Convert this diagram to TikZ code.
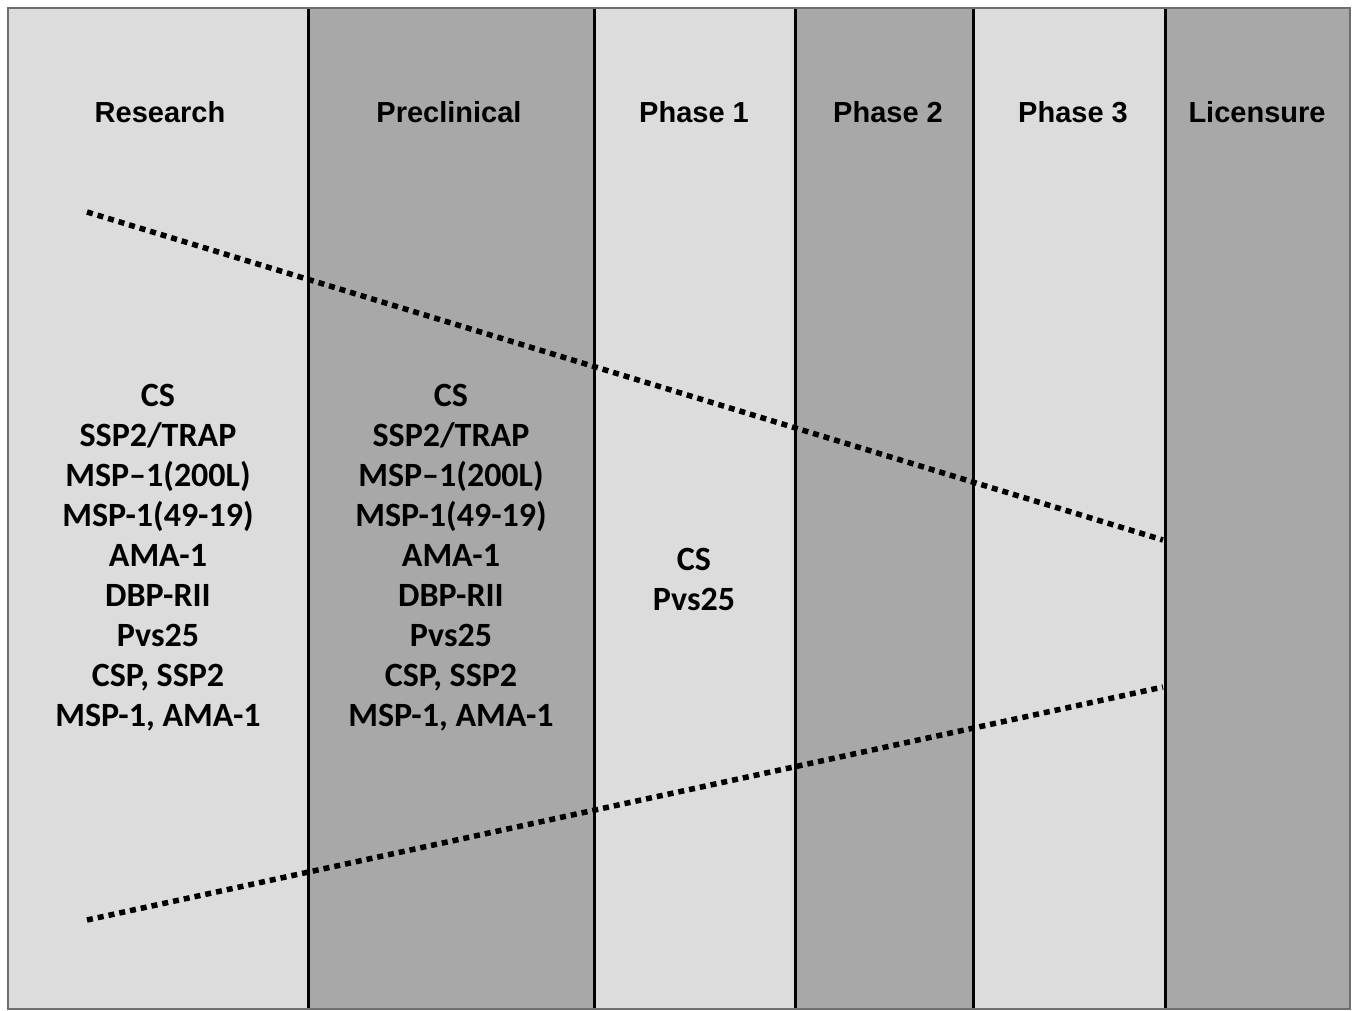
\documentclass[tikz,border=0pt]{standalone}
\usepackage{fontspec}
\setmainfont{Carlito}
\newfontfamily\headfont{Liberation Sans}
\begin{document}
\begin{tikzpicture}[x=1pt,y=-1pt,
  divider/.style={line width=3pt,black},
  head/.style={font=\headfont\bfseries\fontsize{29}{34}\selectfont,anchor=center},
  items/.style={font=\bfseries\fontsize{34}{40}\selectfont,align=center,anchor=center},
  dotline/.style={line width=5.5pt,dash pattern=on 6pt off 5pt,black}]
\definecolor{light}{HTML}{DCDCDC}
\definecolor{darkg}{HTML}{A8A8A8}
\definecolor{frame}{HTML}{6E6E6E}
\useasboundingbox (0,0) rectangle (1355,1011);
\fill[white] (0,0) rectangle (1355,1011);
% columns
\fill[light] (8,8) rectangle (308,1009);
\fill[darkg] (308,8) rectangle (594,1009);
\fill[light] (594,8) rectangle (795,1009);
\fill[darkg] (795,8) rectangle (973,1009);
\fill[light] (973,8) rectangle (1165,1009);
\fill[darkg] (1165,8) rectangle (1350,1009);
\draw[divider] (308,8) -- (308,1009);
\draw[divider] (594,8) -- (594,1009);
\draw[divider] (795,8) -- (795,1009);
\draw[divider] (973,8) -- (973,1009);
\draw[divider] (1165,8) -- (1165,1009);
\draw[frame,line width=2.5pt] (8,8) rectangle (1350,1009);
% headers
\node[head] (hres) at (160,112) {Research};
\node[head] (hpre) at (449,112) {Preclinical};
\node[head] (hp1) at (694,112) {Phase 1};
\node[head] (hp2) at (888,112) {Phase 2};
\node[head] (hp3) at (1073,112) {Phase 3};
\node[head] (hlic) at (1257,112) {Licensure};
% items
\node[items] (ires) at (158,558) {CS\\SSP2/TRAP\\MSP–1(200L)\\MSP-1(49-19)\\AMA-1\\DBP-RII\\Pvs25\\CSP, SSP2\\MSP-1, AMA-1};
\node[items] (ipre) at (451,558) {CS\\SSP2/TRAP\\MSP–1(200L)\\MSP-1(49-19)\\AMA-1\\DBP-RII\\Pvs25\\CSP, SSP2\\MSP-1, AMA-1};
\node[items] (ip1) at (694,579) {CS\\Pvs25};
% dotted lines
\coordinate (ta) at (87,212);
\coordinate (tb) at (1163,540);
\coordinate (ba) at (87,920);
\coordinate (bb) at (1163,687);
\draw[dotline] (ta) -- (tb);
\draw[dotline] (ba) -- (bb);
\end{tikzpicture}
\end{document}
